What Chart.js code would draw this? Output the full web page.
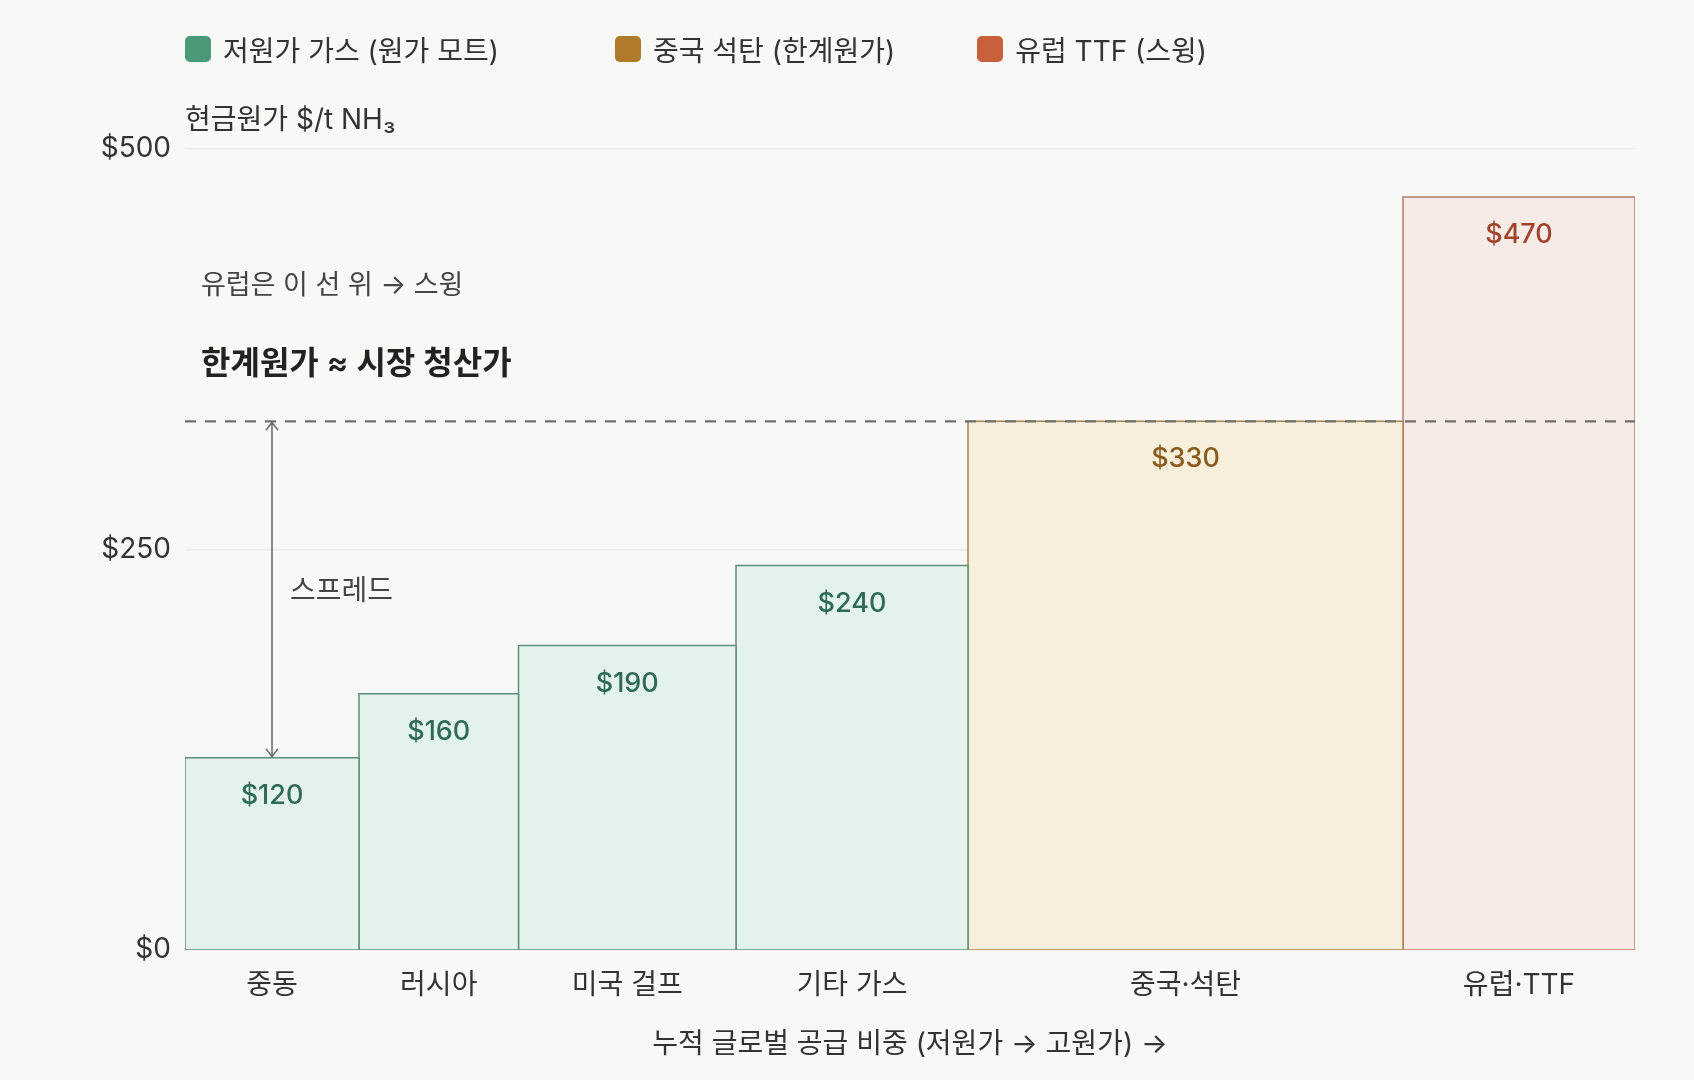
<!DOCTYPE html>
<html lang="ko">
<head>
<meta charset="utf-8">
<title>암모니아 현금원가 곡선</title>
<script src="https://cdn.jsdelivr.net/npm/chart.js@4.4.1/dist/chart.umd.min.js"></script>
<style>
    html, body { margin: 0; padding: 0; background: #f8f8f6; }
    #wrap { position: relative; width: 1694px; height: 1080px; }
    #legend {
        position: absolute; left: 185px; top: 29px;
        display: flex; align-items: center;
        font: 28px Inter, "Noto Sans CJK KR", sans-serif; color: #333;
    }
    #legend .item { display: flex; align-items: center; }
    #legend .box { width: 26px; height: 26px; border-radius: 5px; margin-right: 12px; }
</style>
</head>
<body>
<div id="wrap">
    <canvas id="costCurve"></canvas>
    <div id="legend"></div>
</div>
<script>
// Data kurva biaya
const regions = ['중동', '러시아', '미국 걸프', '기타 가스', '중국·석탄', '유럽·TTF'];
const shares = [12, 11, 15, 16, 30, 16];          // lebar = porsi pasokan (%)
const costs = [120, 160, 190, 240, 330, 470];     // $/t NH3
const groupOf = [0, 0, 0, 0, 1, 2];
const groupNames = ['저원가 가스 (원가 모트)', '중국 석탄 (한계원가)', '유럽 TTF (스윙)'];
const yTicks = [0, 250, 500];
const marginalCost = 330;

// Warna per kelompok
const legendColors = ['#4b9a77', '#b07a2b', '#c8603b'];
const fillColors = ['#e3f3ec', '#f7eedc', '#f7ebe7'];
const borderColors = ['#5f8e78', '#a98250', '#b87e6a'];
const labelColors = ['#2f6b54', '#8a5a1f', '#a0452b'];
const legendGaps = [116, 82, 0];

const FONT = 'Inter, "Noto Sans CJK KR", sans-serif';

// Batas kumulatif tiap batang
const bounds = [];
let acc = 0;
shares.forEach(s => { bounds.push({ x0: acc, x1: acc + s }); acc += s; });
const centers = bounds.map(b => (b.x0 + b.x1) / 2);

// Legend HTML
const legendEl = document.getElementById('legend');
groupNames.forEach((name, i) => {
    legendEl.innerHTML += '<div class="item" style="margin-right:' + legendGaps[i] + 'px">' +
        '<span class="box" style="background:' + legendColors[i] + '"></span>' + name + '</div>';
});

// Dataset: tiap batang sebagai poligon tertutup
const barSets = bounds.map((b, i) => ({
    label: regions[i],
    data: [
        { x: b.x0, y: 0 }, { x: b.x0, y: costs[i] },
        { x: b.x1, y: costs[i] }, { x: b.x1, y: 0 }, { x: b.x0, y: 0 }
    ],
    fill: 'shape',
    backgroundColor: fillColors[groupOf[i]],
    borderColor: borderColors[groupOf[i]],
    borderWidth: 1.5,
    pointRadius: 0,
    tension: 0,
    order: 1
}));

const marginLine = {
    label: 'marginal',
    data: [{ x: 0, y: marginalCost }, { x: acc, y: marginalCost }],
    borderColor: '#6f6f6b',
    borderWidth: 2.2,
    borderDash: [11, 9],
    pointRadius: 0,
    fill: false,
    order: 0
};

// Plugin untuk label nilai, panah spread dan anotasi
const annotate = {
    id: 'annotate',
    afterDatasetsDraw(chart) {
        const { ctx, chartArea, scales: { x, y } } = chart;
        ctx.save();
        ctx.textAlign = 'center';
        ctx.textBaseline = 'middle';
        ctx.font = '500 27px ' + FONT;
        costs.forEach((c, i) => {
            ctx.fillStyle = labelColors[groupOf[i]];
            ctx.fillText('$' + c, x.getPixelForValue(centers[i]), y.getPixelForValue(c) + 38);
        });

        // panah spread
        const ax = x.getPixelForValue(centers[0]);
        const yTop = y.getPixelForValue(marginalCost);
        const yBot = y.getPixelForValue(costs[0]);
        ctx.strokeStyle = '#6f6f6b';
        ctx.lineWidth = 1.6;
        ctx.beginPath();
        ctx.moveTo(ax, yTop + 1); ctx.lineTo(ax, yBot - 1);
        ctx.moveTo(ax - 6, yTop + 9); ctx.lineTo(ax, yTop + 1); ctx.lineTo(ax + 6, yTop + 9);
        ctx.moveTo(ax - 6, yBot - 9); ctx.lineTo(ax, yBot - 1); ctx.lineTo(ax + 6, yBot - 9);
        ctx.stroke();

        ctx.textAlign = 'left';
        ctx.fillStyle = '#444';
        ctx.font = '28px ' + FONT;
        ctx.fillText('스프레드', ax + 18, y.getPixelForValue((marginalCost + costs[0]) / 2) + 2);

        ctx.font = '27px ' + FONT;
        ctx.fillText('유럽은 이 선 위 → 스윙', chartArea.left + 16, yTop - 135);
        ctx.fillStyle = '#222';
        ctx.font = '600 32px ' + FONT;
        ctx.fillText('한계원가 ≈ 시장 청산가', chartArea.left + 16, yTop - 57);

        // judul sumbu y
        ctx.fillStyle = '#333';
        ctx.font = '28px ' + FONT;
        ctx.fillText('현금원가 $/t NH₃', chartArea.left, chartArea.top - 28);
        ctx.restore();
    }
};

new Chart(document.getElementById('costCurve').getContext('2d'), {
    type: 'line',
    data: { datasets: [...barSets, marginLine] },
    options: {
        responsive: true,
        maintainAspectRatio: false,
        animation: false,
        events: [],
        layout: { padding: { top: 149, right: 59, left: 0, bottom: 0 } },
        plugins: {
            legend: { display: false },
            tooltip: { enabled: false }
        },
        scales: {
            x: {
                type: 'linear',
                min: 0,
                max: acc,
                grid: { display: false },
                border: { display: false },
                afterBuildTicks: scale => { scale.ticks = centers.map(v => ({ value: v })); },
                afterFit: scale => { scale.height = 130; },
                ticks: {
                    autoSkip: false,
                    maxRotation: 0,
                    padding: 11,
                    color: '#333',
                    font: { family: FONT, size: 28 },
                    callback: (v, i) => regions[i]
                },
                title: {
                    display: true,
                    text: '누적 글로벌 공급 비중 (저원가 → 고원가) →',
                    color: '#333',
                    font: { family: FONT, size: 28 },
                    padding: { top: 0, bottom: 19 }
                }
            },
            y: {
                min: 0,
                max: 500,
                afterBuildTicks: scale => { scale.ticks = yTicks.map(v => ({ value: v })); },
                afterFit: scale => { scale.width = 185; },
                grid: { color: '#ebebe8', lineWidth: 1.5, drawTicks: false },
                border: { display: false },
                ticks: {
                    padding: 14,
                    color: '#333',
                    font: { family: FONT, size: 28 },
                    callback: v => '$' + v
                }
            }
        }
    },
    plugins: [annotate]
});
</script>
</body>
</html>
